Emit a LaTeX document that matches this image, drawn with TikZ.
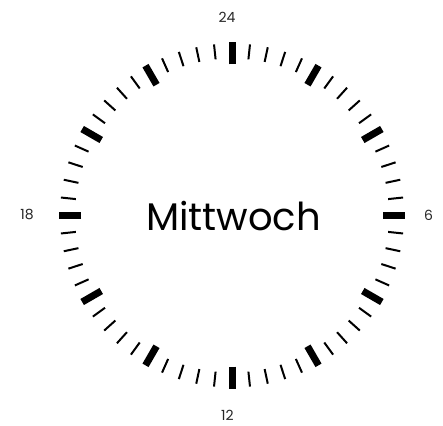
\documentclass[tikz,border=0pt]{standalone}
\usepackage{fontspec}
\setmainfont{Poppins}
\usetikzlibrary{calc}
\begin{document}
\begin{tikzpicture}[x=1pt,y=1pt,
  minortick/.style={line width=2pt,black},
  majortick/.style={line width=7pt,black},
  hourlabel/.style={font=\fontsize{14}{14}\selectfont,text=black!85,inner sep=1pt},
  daylabel/.style={font=\fontsize{38.5}{38.5}\selectfont,text=black}]
\useasboundingbox[fill=white] (0,0) rectangle (443,425);
\coordinate (c) at (232,209.5);
\foreach \i in {0,...,59}{
  \pgfmathtruncatemacro{\m}{mod(\i,5)}
  \ifnum\m=0
    \draw[majortick] ($(c)+(\i*6:151)$) -- ($(c)+(\i*6:173)$);
  \else
    \draw[minortick] ($(c)+(\i*6:157)$) -- ($(c)+(\i*6:172)$);
  \fi
}
\node[hourlabel] (l24) at (227,407.5) {24};
\node[hourlabel] (l6) at (428.5,210) {6};
\node[hourlabel] (l12) at (227.5,9.5) {12};
\node[hourlabel] (l18) at (27,210) {18};
\node[daylabel] (day) at (233.5,209) {Mittwoch};
\end{tikzpicture}
\end{document}
